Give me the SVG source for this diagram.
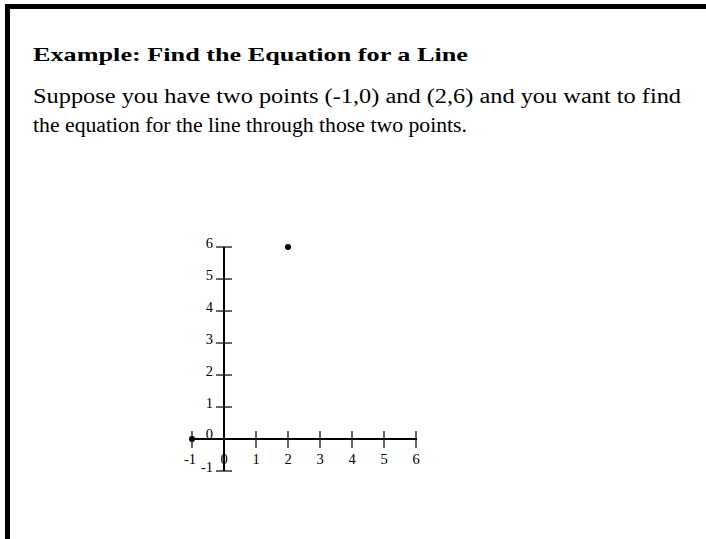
<svg xmlns="http://www.w3.org/2000/svg" width="706" height="539" viewBox="0 0 706 539">
<style>
.t{font-family:"Liberation Serif","DejaVu Serif",serif;fill:#000}
.title{font-size:19px;font-weight:bold}
.body{font-size:20px}
.ax{stroke:#000;stroke-width:2;fill:none}
.tk{stroke:#000;stroke-width:1.2;fill:none}
</style>
<rect width="706" height="539" fill="#fff"/>
<path d="M7.5,539 V6.5 H706" fill="none" stroke="#000" stroke-width="5"/>
<g id="text">
<text class="t title" x="33" y="61" textLength="435" lengthAdjust="spacingAndGlyphs">Example: Find the Equation for a Line</text>
<text class="t body" x="33" y="103" textLength="648" lengthAdjust="spacingAndGlyphs">Suppose you have two points (-1,0) and (2,6) and you want to find</text>
<text class="t body" x="33" y="132" textLength="434" lengthAdjust="spacingAndGlyphs">the equation for the line through those two points.</text>
</g>
<g id="axes">
<line class="ax" x1="191" y1="439" x2="417" y2="439"/>
<line class="ax" x1="224" y1="247" x2="224" y2="471"/>
<g class="tk">
<line x1="192" y1="431" x2="192" y2="448"/>
<line x1="224" y1="431" x2="224" y2="448"/>
<line x1="256" y1="431" x2="256" y2="448"/>
<line x1="288" y1="431" x2="288" y2="448"/>
<line x1="320" y1="431" x2="320" y2="448"/>
<line x1="352" y1="431" x2="352" y2="448"/>
<line x1="384" y1="431" x2="384" y2="448"/>
<line x1="416" y1="431" x2="416" y2="448"/>
<line x1="216" y1="471" x2="232" y2="471"/>
<line x1="216" y1="439" x2="232" y2="439"/>
<line x1="216" y1="407" x2="232" y2="407"/>
<line x1="216" y1="375" x2="232" y2="375"/>
<line x1="216" y1="343" x2="232" y2="343"/>
<line x1="216" y1="311" x2="232" y2="311"/>
<line x1="216" y1="279" x2="232" y2="279"/>
<line x1="216" y1="247" x2="232" y2="247"/>
</g>
<g class="t" font-size="14.5" text-anchor="middle">
<text x="190" y="464" font-size="14.5">-1</text>
<text x="224" y="464" font-size="14.5">0</text>
<text x="256" y="464" font-size="14.5">1</text>
<text x="288" y="464" font-size="14.5">2</text>
<text x="320" y="464" font-size="14.5">3</text>
<text x="352" y="464" font-size="14.5">4</text>
<text x="384" y="464" font-size="14.5">5</text>
<text x="416" y="464" font-size="14.5">6</text>
</g>
<g class="t" font-size="14.5" text-anchor="end">
<text x="213" y="472" font-size="14.5">-1</text>
<text x="213" y="439" font-size="14.5">0</text>
<text x="213" y="408" font-size="14.5">1</text>
<text x="213" y="376" font-size="14.5">2</text>
<text x="213" y="344" font-size="14.5">3</text>
<text x="213" y="312" font-size="14.5">4</text>
<text x="213" y="280" font-size="14.5">5</text>
<text x="213" y="248" font-size="14.5">6</text>
</g>
</g>
<g id="p1"><circle cx="192" cy="439" r="3" fill="#000"/></g>
<g id="p2"><circle cx="288" cy="247" r="3" fill="#000"/></g>
</svg>
